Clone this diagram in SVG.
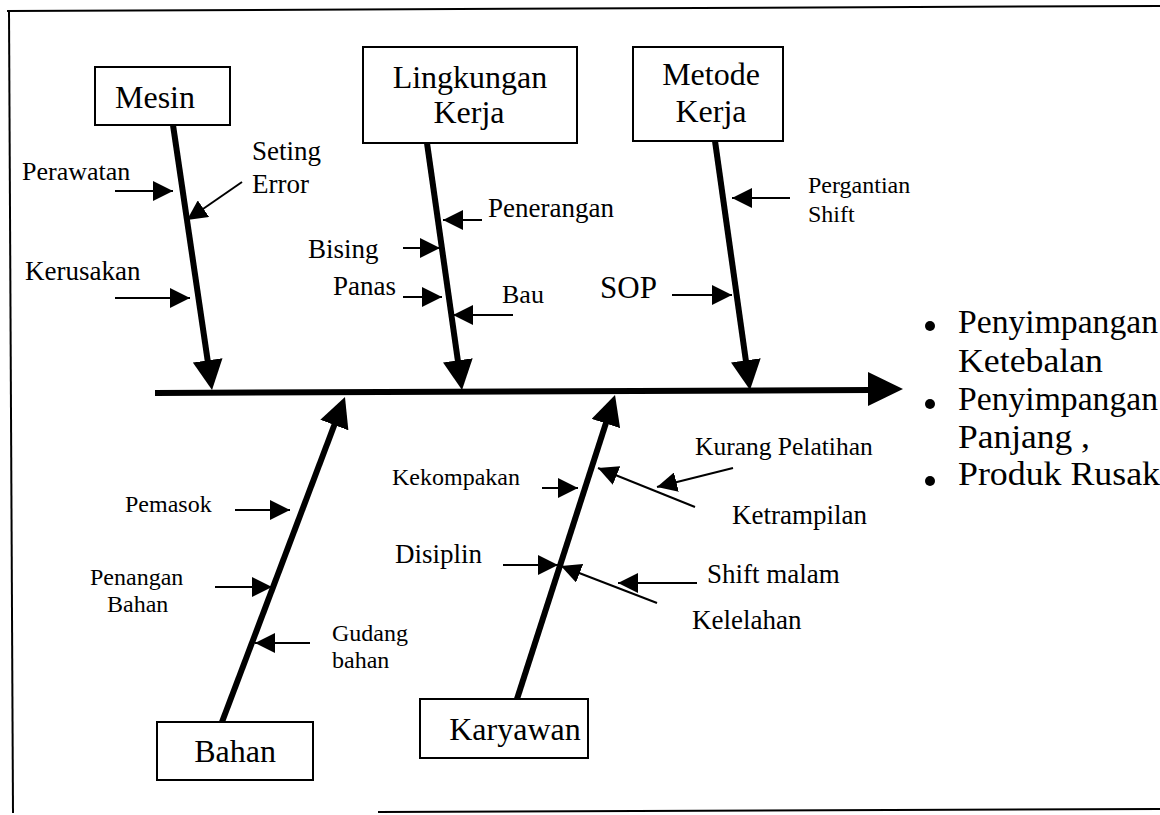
<svg xmlns="http://www.w3.org/2000/svg" width="1160" height="815" viewBox="0 0 1160 815">
  <style>
    .box { fill: #fff; stroke: #000; stroke-width: 2; }
    .cat { font-size: 32px; text-anchor: middle; }
    .spine { stroke: #000; stroke-width: 6; fill: none; }
    .sub { stroke: #000; stroke-width: 2; fill: none; }
    .s24 { font-size: 24px; }
    .s27 { font-size: 27px; }
    .out { font-size: 33px; }
    .frame { stroke: #000; stroke-width: 2; fill: none; }
  </style>
  <defs>
    <marker id="big" markerUnits="userSpaceOnUse" viewBox="0 0 30 30" refX="12" refY="15" markerWidth="30" markerHeight="30" orient="auto">
      <path d="M0,0 L30,15 L0,30 z" fill="#000"/>
    </marker>
    <marker id="small" markerUnits="userSpaceOnUse" viewBox="0 0 20 20" refX="20" refY="10" markerWidth="20" markerHeight="20" orient="auto">
      <path d="M0,0 L20,10 L0,20 z" fill="#000"/>
    </marker>
  </defs>

  <!-- page frame -->
  <g id="frame">
    <line class="frame" x1="7" y1="11" x2="1160" y2="6"/>
    <line class="frame" x1="9" y1="11" x2="13" y2="813"/>
    <line class="frame" x1="378" y1="812" x2="1160" y2="809"/>
  </g>

  <g id="connectors">
    <!-- main spine -->
    <line class="spine" x1="155" y1="393" x2="872" y2="390" stroke-width="7"/>
    <polygon points="868,372 903,389 868,406" fill="#000"/>

    <!-- category bones -->
    <line class="spine" x1="173" y1="125" x2="209.4" y2="372.2" marker-end="url(#big)"/>
    <line class="spine" x1="427" y1="143" x2="459.5" y2="372.2" marker-end="url(#big)"/>
    <line class="spine" x1="715" y1="141" x2="747.5" y2="372.2" marker-end="url(#big)"/>
    <line class="spine" x1="222" y1="722" x2="338.6" y2="413.8" stroke-width="5" marker-end="url(#big)"/>
    <line class="spine" x1="517" y1="699" x2="609.5" y2="412.1" stroke-width="5" marker-end="url(#big)"/>

    <!-- Mesin causes -->
    <line class="sub" x1="115" y1="191" x2="173" y2="191" marker-end="url(#small)"/>
    <line class="sub" x1="242" y1="182" x2="187" y2="220" marker-end="url(#small)"/>
    <line class="sub" x1="115" y1="298" x2="190" y2="298" marker-end="url(#small)"/>

    <!-- Lingkungan Kerja causes -->
    <line class="sub" x1="482" y1="220" x2="443" y2="220" marker-end="url(#small)"/>
    <line class="sub" x1="403" y1="248" x2="440" y2="248" marker-end="url(#small)"/>
    <line class="sub" x1="403" y1="297" x2="442" y2="297" marker-end="url(#small)"/>
    <line class="sub" x1="513" y1="315" x2="453" y2="315" marker-end="url(#small)"/>

    <!-- Metode Kerja causes -->
    <line class="sub" x1="790" y1="198" x2="732" y2="198" marker-end="url(#small)"/>
    <line class="sub" x1="672" y1="295" x2="732" y2="295" marker-end="url(#small)"/>

    <!-- Bahan causes -->
    <line class="sub" x1="235" y1="510" x2="290" y2="510" marker-end="url(#small)"/>
    <line class="sub" x1="215" y1="587" x2="272" y2="587" marker-end="url(#small)"/>
    <line class="sub" x1="310" y1="643" x2="255" y2="643" marker-end="url(#small)"/>

    <!-- Karyawan causes -->
    <line class="sub" x1="542" y1="488" x2="578" y2="488" marker-end="url(#small)"/>
    <line class="sub" x1="695" y1="507" x2="598" y2="468" stroke-width="2.5" marker-end="url(#small)"/>
    <line class="sub" x1="733" y1="468" x2="657" y2="487" marker-end="url(#small)"/>
    <line class="sub" x1="503" y1="565" x2="558" y2="565" marker-end="url(#small)"/>
    <line class="sub" x1="657" y1="603" x2="561" y2="566" stroke-width="2.5" marker-end="url(#small)"/>
    <line class="sub" x1="697" y1="583" x2="618" y2="583" marker-end="url(#small)"/>
  </g>

  <g font-family="'Liberation Serif', Tinos, 'Times New Roman', 'DejaVu Serif', serif" fill="#000">
  <!-- category nodes -->
  <g id="mesin">
    <rect class="box" x="95" y="67" width="135" height="58"/>
    <text class="cat" x="155" y="108">Mesin</text>
  </g>
  <g id="lingkungan-kerja">
    <rect class="box" x="363" y="47" width="214" height="96"/>
    <text class="cat" x="470" y="88">Lingkungan</text>
    <text class="cat" x="469" y="123">Kerja</text>
  </g>
  <g id="metode-kerja">
    <rect class="box" x="633" y="47" width="150" height="94"/>
    <text class="cat" x="711" y="85">Metode</text>
    <text class="cat" x="711" y="122">Kerja</text>
  </g>
  <g id="bahan">
    <rect class="box" x="157" y="722" width="156" height="58"/>
    <text class="cat" x="235" y="762">Bahan</text>
  </g>
  <g id="karyawan">
    <rect class="box" x="420" y="699" width="168" height="59"/>
    <text class="cat" x="515" y="740">Karyawan</text>
  </g>

  <!-- cause labels -->
  <g id="labels">
    <text x="22" y="180" font-size="26">Perawatan</text>
    <text class="s27" x="252" y="160">Seting</text>
    <text class="s27" x="252" y="193">Error</text>
    <text class="s27" x="25" y="280">Kerusakan</text>

    <text class="s27" x="488" y="217">Penerangan</text>
    <text class="s27" x="308" y="258">Bising</text>
    <text class="s27" x="333" y="295">Panas</text>
    <text x="502" y="303" font-size="26">Bau</text>

    <text class="s24" x="808" y="193">Pergantian</text>
    <text class="s24" x="808" y="222">Shift</text>
    <text x="600" y="298" font-size="31">SOP</text>

    <text class="s24" x="125" y="512">Pemasok</text>
    <text class="s24" x="90" y="585">Penangan</text>
    <text class="s24" x="107" y="612">Bahan</text>
    <text class="s24" x="332" y="641">Gudang</text>
    <text class="s24" x="332" y="668">bahan</text>

    <text class="s24" x="392" y="485">Kekompakan</text>
    <text x="695" y="455" font-size="25.5">Kurang Pelatihan</text>
    <text class="s27" x="732" y="524">Ketrampilan</text>
    <text class="s27" x="395" y="563">Disiplin</text>
    <text class="s27" x="707" y="583">Shift malam</text>
    <text class="s27" x="692" y="629">Kelelahan</text>
  </g>

  <!-- effect list -->
  <g id="effects">
    <circle cx="930" cy="326" r="5"/>
    <circle cx="930" cy="404" r="5"/>
    <circle cx="930" cy="481" r="5"/>
    <text class="out" x="958" y="333" textLength="200" lengthAdjust="spacingAndGlyphs">Penyimpangan</text>
    <text class="out" x="958" y="372" textLength="145" lengthAdjust="spacingAndGlyphs">Ketebalan</text>
    <text class="out" x="958" y="410" textLength="200" lengthAdjust="spacingAndGlyphs">Penyimpangan</text>
    <text class="out" x="958" y="448" textLength="132" lengthAdjust="spacingAndGlyphs">Panjang ,</text>
    <text class="out" x="958" y="485" textLength="202" lengthAdjust="spacingAndGlyphs">Produk Rusak</text>
  </g>
  </g>
</svg>
